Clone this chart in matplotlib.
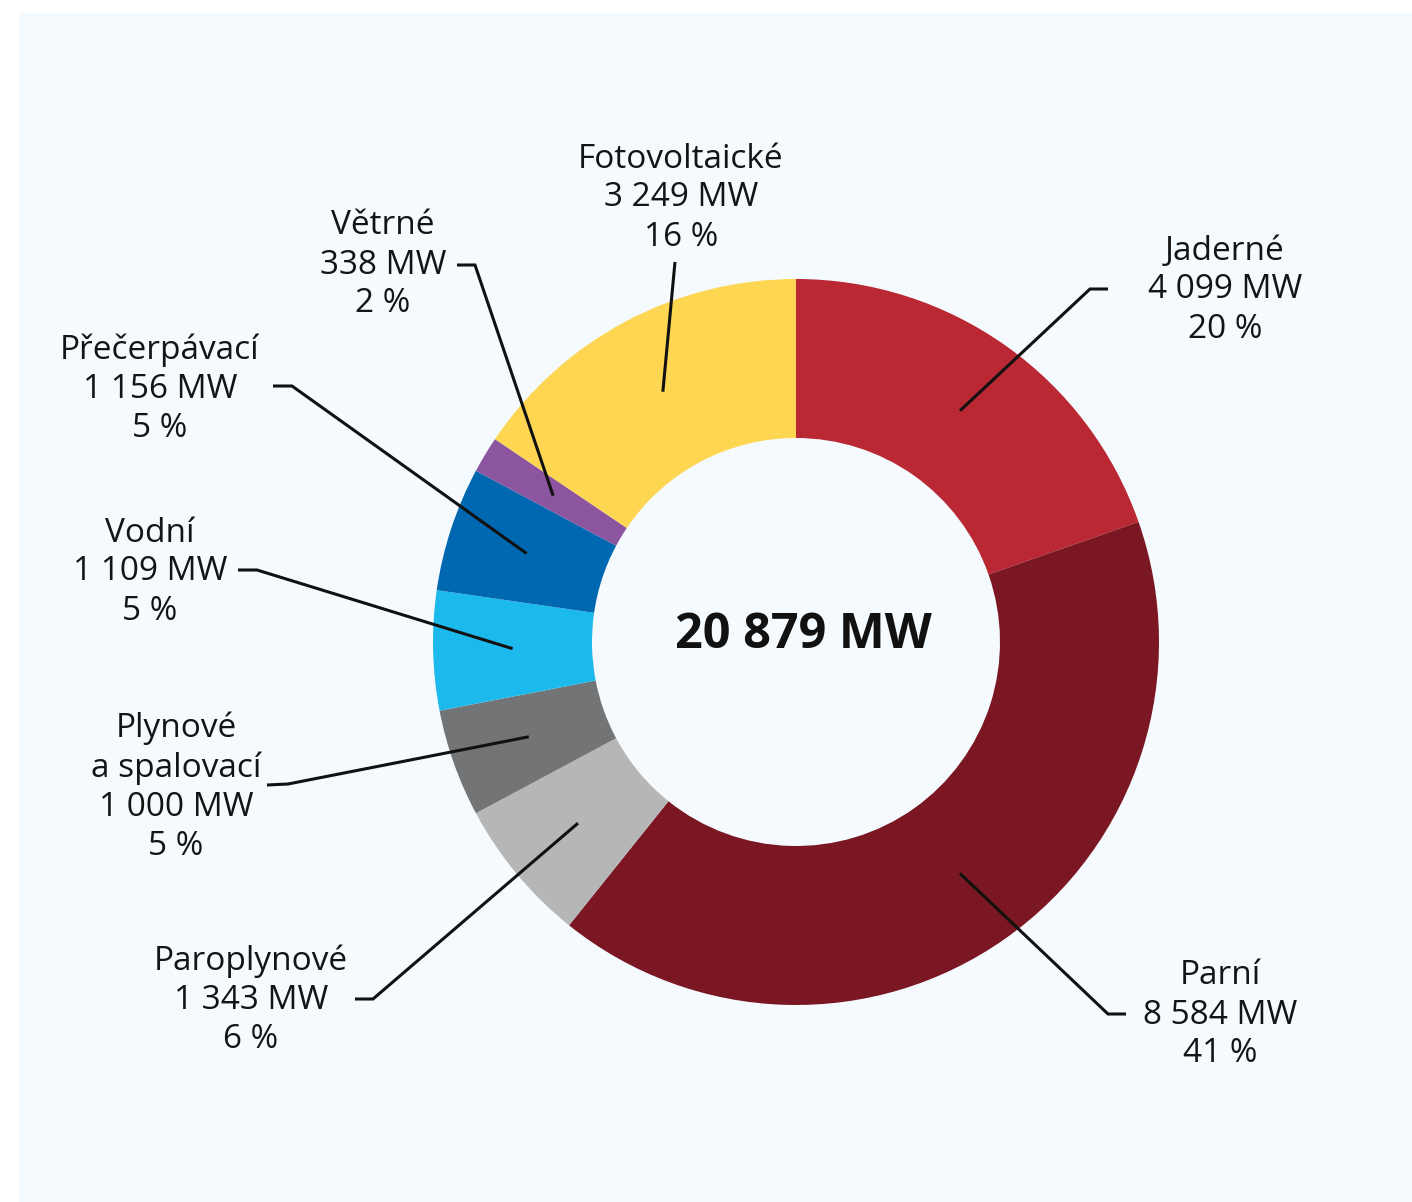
import matplotlib
matplotlib.use("Agg")
import matplotlib.pyplot as plt
from matplotlib.patches import Rectangle
import numpy as np

# ---- data ----
categories = ["Jaderné", "Parní", "Paroplynové", "Plynové\na spalovací",
              "Vodní", "Přečerpávací", "Větrné", "Fotovoltaické"]
values_mw = [4099, 8584, 1343, 1000, 1109, 1156, 338, 3249]
value_labels = ["4 099 MW", "8 584 MW", "1 343 MW", "1 000 MW",
                "1 109 MW", "1 156 MW", "338 MW", "3 249 MW"]
percent_labels = ["20 %", "41 %", "6 %", "5 %", "5 %", "5 %", "2 %", "16 %"]
total_label = "20 879 MW"
colors = ["#ba2834", "#7a1723", "#b6b6b6", "#737476",
          "#1cb9ec", "#0067b1", "#8b55a0", "#fed651"]

# ---- layout (pixel coordinates, y downward) ----
W, H = 1412, 1202
CX, CY = 796, 642
R_OUT, R_IN = 363, 204
# text block centre, horizontal leader start, bend point
label_layout = [
    ((1225, 290), (1108, 289), (1090, 289)),   # Jaderné
    ((1220, 1015), (1126, 1014), (1108, 1014)),  # Parní
    ((251, 1000), (355, 999), (373, 999)),     # Paroplynové
    ((176, 787), (267, 785), (288, 784)),      # Plynové
    ((150, 572), (238, 570), (257, 570)),      # Vodní
    ((160, 389), (273, 386), (292, 386)),      # Přečerpávací
    ((383, 265), (457, 265), (475, 265)),      # Větrné
    ((681, 198), None, (675, 262)),            # Fotovoltaické
]

FONT = ["Open Sans", "DejaVu Sans"]
TXT = "#141414"

fig = plt.figure(figsize=(W / 100, H / 100), dpi=100)
fig.patch.set_facecolor("white")
ax = fig.add_axes([0, 0, 1, 1])

# panel background
ax.add_patch(Rectangle((19, 0), W - 19, H - 13, facecolor="#f5fafe",
                       edgecolor="none", zorder=0))

wedges, _ = ax.pie(values_mw, colors=colors, startangle=90, counterclock=False,
                   center=(CX, H - CY), radius=R_OUT,
                   wedgeprops=dict(width=R_OUT - R_IN, linewidth=0))
for w in wedges:
    w.set_zorder(2)

r_mid = (R_OUT + R_IN) / 2
for i, w in enumerate(wedges):
    ang = np.deg2rad((w.theta1 + w.theta2) / 2)
    mx = CX + r_mid * np.cos(ang)
    my = H - CY + r_mid * np.sin(ang)
    (tx, ty), start, bend = label_layout[i]
    xs, ys = [], []
    if start is not None:
        xs.append(start[0]); ys.append(H - start[1])
    xs += [bend[0], mx]
    ys += [H - bend[1], my]
    ax.plot(xs, ys, color="#111111", lw=2.2, solid_capstyle="butt",
            solid_joinstyle="miter", zorder=3)
    txt = "\n".join([categories[i], value_labels[i], percent_labels[i]])
    ax.text(tx, H - ty, txt, ha="center", va="center", multialignment="center",
            fontsize=24, family=FONT, color=TXT, linespacing=1.24, zorder=4)

ax.text(CX + 7, H - 636, total_label, ha="center", va="center",
        fontsize=35, fontweight="bold", family=FONT, color="#111111", zorder=4)

ax.set_xlim(0, W)
ax.set_ylim(0, H)
ax.set_aspect("equal")
ax.axis("off")

fig.savefig("out.png", dpi=100, facecolor="white")
